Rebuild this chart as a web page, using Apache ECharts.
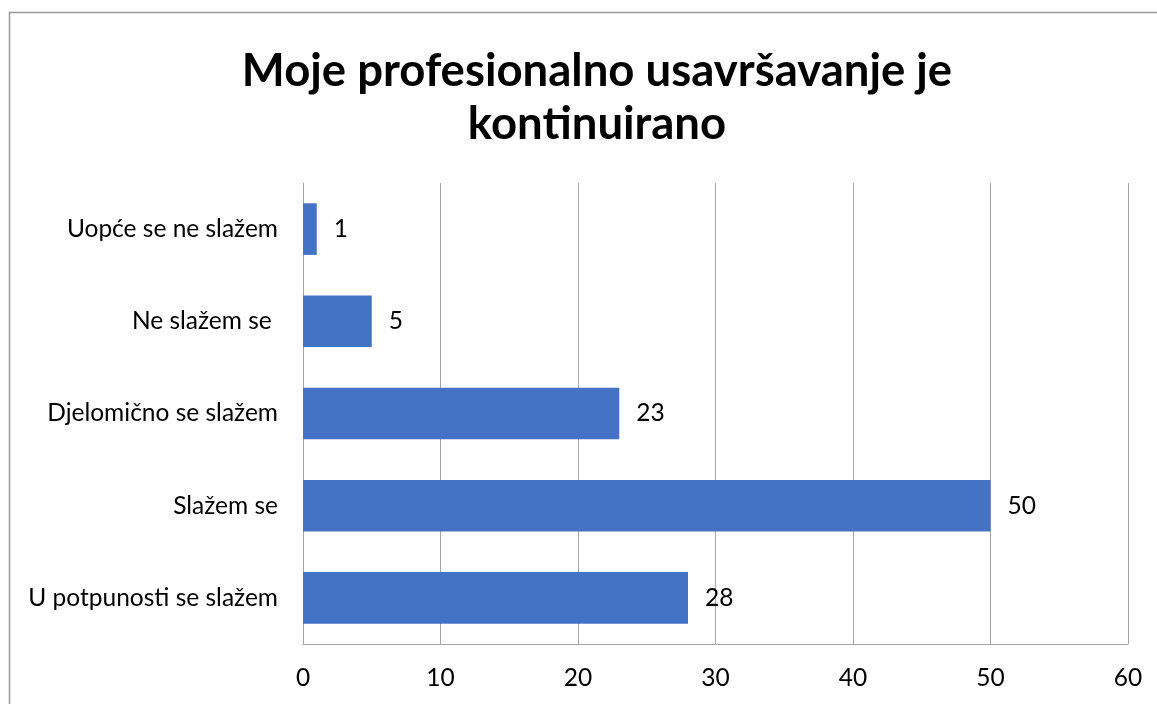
<!DOCTYPE html>
<html><head><meta charset="utf-8">
<script src="https://cdn.jsdelivr.net/npm/echarts@6/dist/echarts.min.js"></script>
<style>html,body{margin:0;padding:0;background:#fff}#c{width:1157px;height:704px}</style>
</head><body><div id="c"></div>
<script>
const categories = ["U potpunosti se slažem", "Slažem se", "Djelomično se slažem", "Ne slažem se ", "Uopće se ne slažem"];
const values = [28, 50, 23, 5, 1];
const xTicks = [0, 10, 20, 30, 40, 50, 60];
const titleText = "Moje profesionalno usavršavanje je\nkontinuirano";

const chart = echarts.init(document.getElementById('c'), null, {renderer: 'canvas'});
const font = "Lato, 'Open Sans', sans-serif";
chart.setOption({
  animation: false,
  graphic: [{type: 'rect', shape: {x: 9.5, y: 12.5, width: 1200, height: 800}, style: {fill: 'none', stroke: '#9a9a9a', lineWidth: 1.5}, silent: true}],
  title: {text: titleText, left: 592, top: 40, textAlign: 'center',
    textStyle: {fontFamily: font, fontWeight: 'bold', fontSize: 45.5, lineHeight: 53, color: '#000'}},
  grid: {left: 303, right: 29, top: 183, bottom: 60, containLabel: false},
  xAxis: {type: 'value', min: xTicks[0], max: xTicks[xTicks.length - 1], interval: 10,
    axisLine: {show: true, lineStyle: {color: '#a6a6a6'}},
    axisTick: {show: false},
    splitLine: {show: true, lineStyle: {color: '#a6a6a6', width: 1}},
    axisLabel: {fontFamily: font, fontSize: 24.5, color: '#000', margin: 22}},
  yAxis: {type: 'category', data: categories,
    axisLine: {show: true, lineStyle: {color: '#a6a6a6'}},
    axisTick: {show: false},
    axisLabel: {fontFamily: font, fontSize: 24.5, color: '#000', margin: 25}},
  series: [{type: 'bar', data: values, barCategoryGap: '44%',
    itemStyle: {color: '#4472C4'},
    label: {show: true, position: 'right', distance: 17, fontFamily: font, fontSize: 24.5, color: '#000'}}]
});
</script></body></html>
